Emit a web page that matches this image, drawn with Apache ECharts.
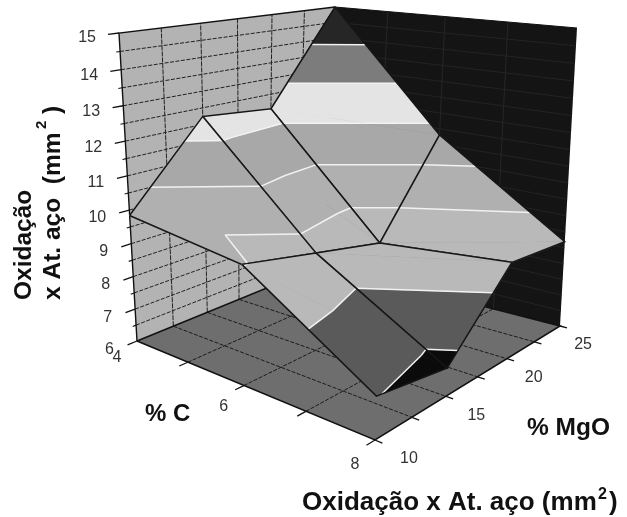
<!DOCTYPE html><html><head><meta charset="utf-8"><style>html,body{margin:0;background:#fff}#c{width:627px;height:517px}</style>
<script src="https://cdn.jsdelivr.net/npm/echarts@6/dist/echarts.min.js"></script></head><body><div id="c"></div><script>
// ---- data ----
const carbonValues=[4,6,8];
const mgoValues=[10,15,20,25];
const oxidationAtC4=[9.84,12.24,12.03,15.0];
const oxidationAtC6=[9.41,8.94,8.48,11.30];
const oxidationAtC8=[7.15,6.80,8.87,8.69];
const zTickLabels=[6,7,8,9,10,11,12,13,14,15];
const zGridValues=[6.5,7,7.5,8,8.5,9,9.5,10,10.5,11,11.5,12,12.5,13,13.5,14,14.5];
const carbonTickValues=[5,6,7];
const carbonTickLabels=[4,6,8];
const mgoTickValues=[12.5,15,17.5,20,22.5];
const mgoTickLabels=[10,15,20,25];
const contourLevels=[6,7.125,8.25,9.375,10.5,11.625,12.75,13.875,15];
const bandColours=['#0b0b0b','#5a5a5a','#b9b9b9','#b0b0b0','#a8a8a8','#e4e4e4','#7c7c7c','#262626'];
// ---- view: where the cube's corners appear ----
const viewCorners=[[4,10,6,137,341],[8,10,6,375,440],[8,25,6,560,326],[4,25,6,323,265],[4,10,15,119,33],[4,25,15,335,7],[8,25,15,577,28]];
const nc=(c,m,z)=>[(c-4)/4,(m-10)/15,(z-6)/9];
function solve(A,b){const n=b.length,M=A.map((r,i)=>[...r,b[i]]);for(let i=0;i<n;i++){let p=i;for(let j=i;j<n;j++)if(Math.abs(M[j][i])>Math.abs(M[p][i]))p=j;[M[i],M[p]]=[M[p],M[i]];for(let j=0;j<n;j++)if(j!=i){const f=M[j][i]/M[i][i];for(let k=i;k<=n;k++)M[j][k]-=f*M[i][k];}}return M.map((r,i)=>r[n]/r[i]);}
const rows=[],rhs=[];viewCorners.forEach(p=>{const [a,b,d]=nc(p[0],p[1],p[2]),u=p[3],v=p[4];rows.push([a,b,d,1,0,0,0,0,-u*a,-u*b,-u*d]);rhs.push(u);rows.push([0,0,0,0,a,b,d,1,-v*a,-v*b,-v*d]);rhs.push(v);});
const NN=Array.from({length:11},(_,i)=>Array.from({length:11},(_,j)=>rows.reduce((s,r)=>s+r[i]*r[j],0)));
const BB=Array.from({length:11},(_,i)=>rows.reduce((s,r,k)=>s+r[i]*rhs[k],0));const h=solve(NN,BB);
function rawP(c,m,z){const [a,b,d]=nc(c,m,z),w=h[8]*a+h[9]*b+h[10]*d+1;return [(h[0]*a+h[1]*b+h[2]*d+h[3])/w,(h[4]*a+h[5]*b+h[6]*d+h[7])/w];}
const resid=viewCorners.map(p=>{const q=rawP(p[0],p[1],p[2]);return {k:nc(p[0],p[1],p[2]),dx:p[3]-q[0],dy:p[4]-q[1]};});
function P(c,m,z){const q=rawP(c,m,z),[a,b,d]=nc(c,m,z);let x=q[0],y=q[1];resid.forEach(r=>{const w=(r.k[0]?a:1-a)*(r.k[1]?b:1-b)*(r.k[2]?d:1-d);x+=w*r.dx;y+=w*r.dy;});return [x,y];}
// ---- build marks ----
const marks=[];
const poly=(pts,fill,stroke,lw)=>marks.push({t:'polygon',pts,fill,stroke,lw});
const line=(pts,stroke,lw,dash)=>marks.push({t:'polyline',pts,stroke,lw,dash});
const cMin=4,cMax=8,mMin=10,mMax=25,zMin=6,zMax=15;
// walls and floor
poly([[cMin,mMin,zMin],[cMin,mMax,zMin],[cMin,mMax,zMax],[cMin,mMin,zMax]],'#b3b3b3');
poly([[cMin,mMax,zMin],[cMax,mMax,zMin],[cMax,mMax,zMax],[cMin,mMax,zMax]],'#141414');
poly([[cMin,mMin,zMin],[cMax,mMin,zMin],[cMax,mMax,zMin],[cMin,mMax,zMin]],'#6e6e6e');
// grids
zGridValues.forEach(z=>{line([[cMin,mMin,z],[cMin,mMax,z]],'#222',1,[4,1.5]);line([[cMin,mMax,z],[cMax,mMax,z]],'#232323',1);});
mgoTickValues.forEach(m=>{line([[cMin,m,zMin],[cMin,m,zMax]],'#222',1,[5,1]);line([[cMin,m,zMin],[cMax,m,zMin]],'#1c1c1c',1,[4,1.5]);});
carbonTickValues.forEach(c=>{line([[c,mMax,zMin],[c,mMax,zMax]],'#262626',1);line([[c,mMin,zMin],[c,mMax,zMin]],'#1c1c1c',1,[4,1.5]);});
// frame
line([[cMin,mMin,zMin],[cMin,mMin,zMax],[cMin,mMax,zMax]],'#111',1.4);
line([[cMin,mMax,zMax],[cMax,mMax,zMax]],'#111',1);
line([[cMin,mMin,zMin],[cMax,mMin,zMin],[cMax,mMax,zMin],[cMin,mMax,zMin],[cMin,mMin,zMin]],'#111',1.5);
// ticks
zTickLabels.forEach(z=>line([[cMin,mMin,z],[cMin,mMin-0.62,z]],'#111',1.3));
zGridValues.filter(z=>!zTickLabels.includes(z)).forEach(z=>line([[cMin,mMin,z],[cMin,mMin-0.22,z]],'#111',1.1));
[...carbonTickValues,cMax].forEach(c=>line([[c,mMin,zMin],[c,mMin-0.55,zMin]],'#111',1.3));
[...mgoTickValues,mMin,mMax].forEach(m=>line([[cMax,m,zMin],[cMax+0.1,m,zMin]],'#111',1.3));
// surface
const surface=[oxidationAtC4,oxidationAtC6,oxidationAtC8];
function clipBand(tri,lo,hi){
  const clip=(pts,keep,lev)=>{const out=[];pts.forEach((a,i)=>{const b=pts[(i+1)%pts.length],ka=keep(a[2]),kb=keep(b[2]);if(ka)out.push(a);if(ka!==kb){const t=(lev-a[2])/(b[2]-a[2]);out.push([a[0]+(b[0]-a[0])*t,a[1]+(b[1]-a[1])*t,lev]);}});return out;};
  let r=clip(tri,z=>z>=lo,lo);if(r.length)r=clip(r,z=>z<=hi,hi);return r;
}
function contourSeg(tri,lev){const o=[];tri.forEach((a,i)=>{const b=tri[(i+1)%3];if((a[2]-lev)*(b[2]-lev)<0){const t=(lev-a[2])/(b[2]-a[2]);o.push([a[0]+(b[0]-a[0])*t,a[1]+(b[1]-a[1])*t,lev]);}});return o.length===2?o:null;}
for(let j=mgoValues.length-2;j>=0;j--)for(let i=0;i<carbonValues.length-1;i++){
  const N=(a,b)=>[carbonValues[a],mgoValues[b],surface[a][b]];
  const A=N(i,j),B=N(i,j+1),C=N(i+1,j+1),D=N(i+1,j);
  const tris=[[A,B,C],[A,C,D]];
  tris.forEach(t=>bandColours.forEach((col,k)=>{const p=clipBand(t,contourLevels[k],contourLevels[k+1]);if(p.length>2)poly(p,col,col,0.7);}));
  tris.forEach(t=>contourLevels.slice(1,-1).forEach(l=>{const s=contourSeg(t,l);if(s)line(s,'#f2f2f2',1.5);}));
  line([A,B,C,D,A],'#161616',1.5);
}
const chart=echarts.init(document.getElementById('c'),null,{renderer:'canvas'});
const F='"Liberation Sans",Arial,sans-serif';
const labelItems=[];
zTickLabels.forEach(z=>{const p=P(cMin,mMin,z);labelItems.push({p:[p[0]-23,p[1]+5+(15-z)*0.45],s:String(z),a:'right'});});
carbonTickLabels.forEach(c=>{const p=P(c,mMin,zMin);labelItems.push({p:[p[0]-20,p[1]+17+(c-4)*2],s:String(c),a:'center'});});
mgoTickLabels.forEach(m=>{const p=P(cMax,m,zMin);labelItems.push({p:[p[0]+34-(m-10)*0.73,p[1]+19],s:String(m),a:'center'});});
const T=(x,y,text,size,rot)=>({type:'text',x,y,rotation:rot||0,style:{text,font:'bold '+size+'px '+F,fill:'#111',textVerticalAlign:'middle'}});
const up=Math.PI/2;
chart.setOption({animation:false,
 grid:{left:0,right:0,top:0,bottom:0},
 xAxis:{type:'value',min:0,max:627,show:false},
 yAxis:{type:'value',min:0,max:517,inverse:true,show:false},
 series:[
 {type:'custom',coordinateSystem:'cartesian2d',clip:false,silent:true,data:marks.map((_,i)=>[i]),encode:{x:0,y:0},
  renderItem(params,api){const m=marks[params.dataIndex];const points=m.pts.map(q=>api.coord(P(q[0],q[1],q[2])));
    if(m.t==='polygon')return {type:'polygon',shape:{points},style:{fill:m.fill,stroke:m.stroke||null,lineWidth:m.lw||0}};
    return {type:'polyline',shape:{points},style:{fill:null,stroke:m.stroke,lineWidth:m.lw,lineDash:m.dash||null}};}},
 {type:'custom',coordinateSystem:'cartesian2d',clip:false,silent:true,data:labelItems.map((_,i)=>[i]),encode:{x:0,y:0},
  renderItem(params,api){const l=labelItems[params.dataIndex];const p=api.coord(l.p);return {type:'text',x:p[0],y:p[1],style:{text:l.s,font:'16px '+F,fill:'#333',textAlign:l.a,textVerticalAlign:'middle'}};}}
 ],
 graphic:[
  T(145,414,'% C',24),
  T(527,428,'% MgO',24.5),
  T(302,503,'Oxidação x At. aço (mm',26),
  T(598,495,'2',16),
  T(609,503,')',26),
  T(24,300,'Oxidação',24.5,up),
  T(53,300,'x At. aço  (mm',24.5,up),
  T(42,129,'2',15,up),
  T(53,114,')',24.5,up)
 ]});
</script></body></html>
